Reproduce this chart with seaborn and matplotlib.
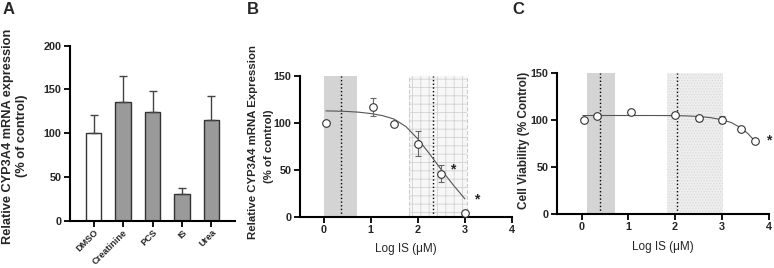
import numpy as np
import pandas as pd
import matplotlib
matplotlib.use("Agg")
import matplotlib.pyplot as plt
import seaborn as sns

# ---------------- data ----------------
# Panel A
a_categories = ["DMSO", "Creatinine", "PCS", "IS", "Urea"]
a_values = [100, 136, 124, 30, 115]
a_errors = [21, 29, 24, 7, 28]

# Panel B
b_x = [0.05, 1.05, 1.5, 2.0, 2.5, 3.0]
b_y = [100, 117, 99, 78, 46, 4]
b_err = [1, 10, 2, 13, 9.5, 1]
b_fit_x = [0.05, 0.25, 0.5, 0.75, 1.0, 1.25, 1.5, 1.75, 2.0, 2.25, 2.5, 2.75, 3.0]
b_fit_y = [112.8, 112.6, 112.2, 111.4, 110.0, 107.8, 104.0, 96.0, 83.0, 67.0, 50.0, 34.0, 19.0]
b_stars_x = [2.75, 3.25]
b_stars_y = [50, 18]

# Panel C
c_x = [0.05, 0.33, 1.05, 2.0, 2.5, 3.0, 3.4, 3.7]
c_y = [100, 105, 108.5, 106, 102, 100.5, 91, 78]
c_err = [1, 1, 1, 1, 2.5, 3.5, 1, 1]
c_fit_x = [0.03, 0.5, 1.0, 1.5, 2.0, 2.25, 2.5, 2.75, 3.0, 3.2, 3.4, 3.55, 3.7]
c_fit_y = [105, 105, 105, 105, 104.9, 104.6, 104.0, 102.8, 100.5, 97.5, 92.0, 86.0, 78.0]
c_stars_x = [4.0]
c_stars_y = [78]

x_ticks = [0, 1, 2, 3, 4]

# ---------------- style ----------------
sns.set_style("ticks")
plt.rcParams["font.family"] = ["Liberation Sans", "DejaVu Sans"]
plt.rcParams["hatch.linewidth"] = 0.6

fig = plt.figure(figsize=(7.74, 2.68), dpi=100)
W, H = 774.0, 268.0

def add_axes(left, right, top, bottom):
    return fig.add_axes([left / W, 1 - bottom / H, (right - left) / W, (bottom - top) / H])

axA = add_axes(70, 235, 45.7, 220.7)
axB = add_axes(300, 512, 76, 216.7)
axC = add_axes(556.7, 768.7, 73.3, 214)

TICK_FS = 7.8

def style_axis(ax):
    for s in ["top", "right"]:
        ax.spines[s].set_visible(False)
    for s in ["left", "bottom"]:
        ax.spines[s].set_linewidth(1.5)
        ax.spines[s].set_color("black")
    ax.tick_params(axis="both", direction="out", length=4, width=1.3, color="black", pad=2)
    for lab in ax.get_xticklabels() + ax.get_yticklabels():
        lab.set_fontweight("bold")
        lab.set_fontsize(TICK_FS)

# ---------------- Panel A ----------------
dfA = pd.DataFrame({"cat": a_categories, "val": a_values})
sns.barplot(data=dfA, x="cat", y="val", ax=axA, width=0.53,
            palette=["white", "#9a9a9a", "#9a9a9a", "#9a9a9a", "#9a9a9a"],
            hue="cat", legend=False, edgecolor="#333333", linewidth=1.0, errorbar=None)
axA.errorbar(range(len(a_values)), a_values, yerr=[[0] * len(a_errors), a_errors],
             fmt="none", ecolor="#444444", elinewidth=1.0, capsize=3, capthick=1.0, zorder=1)
axA.set_ylim(0, 200)
axA.set_yticks([0, 50, 100, 150, 200])
axA.set_xlim(-0.8, 4.8)
axA.set_xlabel("")
axA.set_ylabel("")
style_axis(axA)
axA.set_xticks(range(len(a_categories)))
axA.set_xticklabels(a_categories, rotation=45, ha="right", rotation_mode="anchor",
                    fontsize=6.6, fontweight="bold")
axA.tick_params(axis="x", pad=1)
fig.text(8 / W, 1 - 136 / H, "Relative CYP3A4 mRNA expression", rotation=90,
         ha="center", va="center", fontsize=9.2, fontweight="bold")
fig.text(22 / W, 1 - 136 / H, "(% of control)", rotation=90,
         ha="center", va="center", fontsize=9.2, fontweight="bold")

# ---------------- Panel B ----------------
axB.axvspan(0.0, 0.71, color="#d4d4d4", lw=0, zorder=0)
axB.axvspan(1.81, 3.04, facecolor="#f7f7f7", edgecolor="#d2d2d2", hatch="++", lw=0, zorder=0)
axB.axvline(1.81, color="#cccccc", ls="--", lw=0.8, zorder=0.5)
axB.axvline(3.04, color="#cccccc", ls="--", lw=0.8, zorder=0.5)
axB.axvline(0.38, color="black", ls=":", lw=1.0, zorder=1)
axB.axvline(2.32, color="black", ls=":", lw=1.0, zorder=1)
sns.lineplot(x=b_fit_x, y=b_fit_y, ax=axB, color="#555555", lw=0.8, zorder=2)
axB.errorbar(b_x, b_y, yerr=b_err, fmt="none", ecolor="#666666", elinewidth=0.8,
             capsize=2.5, capthick=0.8, zorder=3)
sns.scatterplot(x=b_x, y=b_y, ax=axB, marker="o", s=30, facecolor="white",
                edgecolor="#333333", linewidth=0.8, zorder=4)
for sx, sy in zip(b_stars_x, b_stars_y):
    axB.text(sx, sy, "*", ha="center", va="center", fontsize=10, fontweight="bold")
axB.set_xlim(-0.5, 4)
axB.set_ylim(0, 150)
axB.set_xticks(x_ticks)
axB.set_yticks([0, 50, 100, 150])
style_axis(axB)
axB.set_xlabel("Log IS (\u03bcM)", fontsize=8.5, labelpad=6)
fig.text(253 / W, 1 - 142 / H, "Relative CYP3A4 mRNA Expression", rotation=90,
         ha="center", va="center", fontsize=8.2, fontweight="bold")
fig.text(269 / W, 1 - 146 / H, "(% of control)", rotation=90,
         ha="center", va="center", fontsize=8.2, fontweight="bold")

# ---------------- Panel C ----------------
axC.axvspan(0.107, 0.72, color="#d4d4d4", lw=0, zorder=0)
axC.axvspan(1.83, 3.03, facecolor="#eeeeee", edgecolor="#dadada", hatch="......", lw=0, zorder=0)
axC.axvline(0.39, color="black", ls=":", lw=1.0, zorder=1)
axC.axvline(2.05, color="black", ls=":", lw=1.0, zorder=1)
sns.lineplot(x=c_fit_x, y=c_fit_y, ax=axC, color="#555555", lw=0.8, zorder=2)
axC.errorbar(c_x, c_y, yerr=c_err, fmt="none", ecolor="#666666", elinewidth=0.8,
             capsize=2.5, capthick=0.8, zorder=3)
sns.scatterplot(x=c_x, y=c_y, ax=axC, marker="o", s=30, facecolor="white",
                edgecolor="#333333", linewidth=0.8, zorder=4)
for sx, sy in zip(c_stars_x, c_stars_y):
    axC.text(sx, sy, "*", ha="center", va="center", fontsize=10, fontweight="bold",
             clip_on=False)
axC.set_xlim(-0.53, 4)
axC.set_ylim(0, 150)
axC.set_xticks(x_ticks)
axC.set_yticks([0, 50, 100, 150])
style_axis(axC)
axC.set_xlabel("Log IS (\u03bcM)", fontsize=8.5, labelpad=6)
fig.text(524 / W, 1 - 140 / H, "Cell Viability (% Control)", rotation=90,
         ha="center", va="center", fontsize=8.5, fontweight="bold")

# ---------------- panel letters ----------------
fig.text(3 / W, 1 - 2 / H, "A", ha="left", va="top", fontsize=12, fontweight="bold")
fig.text(247 / W, 1 - 2 / H, "B", ha="left", va="top", fontsize=12, fontweight="bold")
fig.text(512 / W, 1 - 2 / H, "C", ha="left", va="top", fontsize=12, fontweight="bold")

fig.savefig("out.png", dpi=100)
